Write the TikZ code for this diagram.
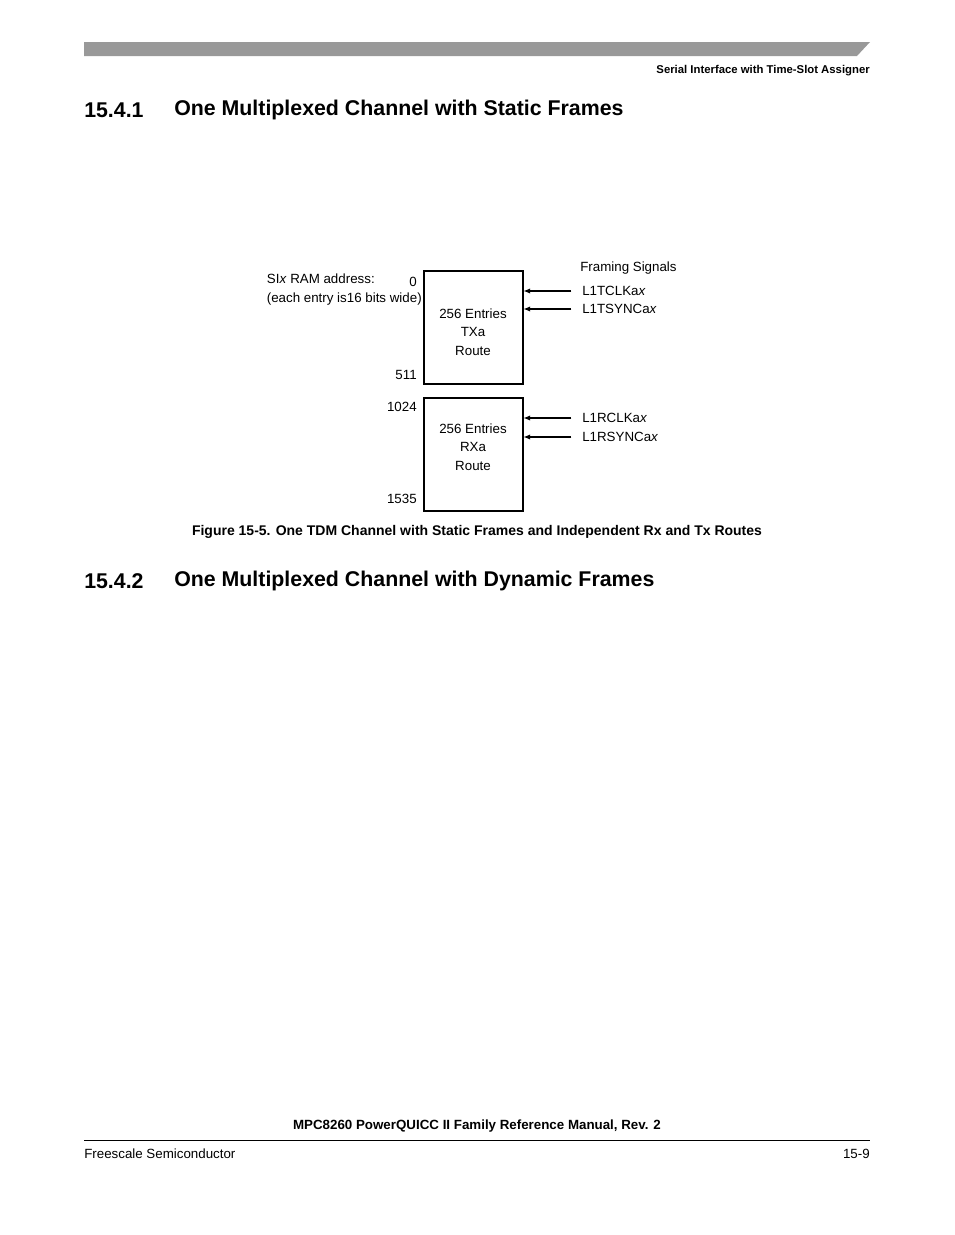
\documentclass[tikz,border=0pt]{standalone}
\usepackage{fontspec}
\setmainfont{Liberation Sans}
\usetikzlibrary{positioning,arrows.meta}
\tikzset{
  lbl/.style={inner sep=0pt, font=\fontsize{10}{12}\selectfont},
  routebox/.style={draw, thick, minimum width=99*0.75pt, minimum height=113*0.75pt, inner sep=0pt},
  sig/.style={-{Latex[length=5pt,width=4pt]}, thick},
  head/.style={inner sep=0pt, anchor=west, font=\fontsize{16}{18}\bfseries\selectfont}
}
\begin{document}
\begin{tikzpicture}[x=0.75pt,y=-0.75pt]
   \useasboundingbox (0,0) rectangle (954,1235);
   % page header
   \fill[black!40] (84,42) -- (870,42) -- (857,56) -- (84,56) -- cycle;
   \node[inner sep=0pt, anchor=east, font=\fontsize{8.5}{10}\bfseries\selectfont] (hdr) at (870,71) {Serial Interface with Time-Slot Assigner};
   \node[head] (h1n) at (84,110) {15.4.1};
   \node[head] (h1) at (174,110) {One Multiplexed Channel with Static Frames};

   % routes
   \node[routebox] (tx) at (473.5,327.5) {};
   \node[routebox] (rx) at (473.5,454.5) {};
   \node[lbl, align=center] (txt) at (473,332) {256 Entries\\[2pt]TXa\\[2pt]Route};
   \node[lbl, align=center] (rxt) at (473,447) {256 Entries\\[2pt]RXa\\[2pt]Route};

   % addresses
   \node[lbl, anchor=east] (a0) at (417,282) {0};
   \node[lbl, anchor=east] (a511) at (417,375) {511};
   \node[lbl, anchor=east] (a1024) at (417,407) {1024};
   \node[lbl, anchor=east] (a1535) at (417,499) {1535};
   \node[lbl, anchor=east] (ram) at (375,279) {SI\textit{x} RAM address:};
   \node[lbl, anchor=east] (wide) at (422,299) {(each entry is16 bits wide)};

   % framing signals
   \node[lbl, anchor=west] (fs) at (580,268) {Framing Signals};
   \node[lbl, anchor=west] (tclk) at (582,291) {L1TCLKa\textit{x}};
   \node[lbl, anchor=west] (tsync) at (582,309) {L1TSYNCa\textit{x}};
   \node[lbl, anchor=west] (rclk) at (582,418) {L1RCLKa\textit{x}};
   \node[lbl, anchor=west] (rsync) at (582,437) {L1RSYNCa\textit{x}};
   \foreach \s in {tclk,tsync}
      \draw[sig] ([xshift=-8pt]\s.west) -- (\s.west -| tx.east);
   \foreach \s in {rclk,rsync}
      \draw[sig] ([xshift=-8pt]\s.west) -- (\s.west -| rx.east);

   \node[inner sep=0pt, font=\fontsize{10.5}{12}\bfseries\selectfont] (cap) at (477,532) {Figure 15-5. One TDM Channel with Static Frames and Independent Rx and Tx Routes};
   \node[head] (h2n) at (84,581) {15.4.2};
   \node[head] (h2) at (174,581) {One Multiplexed Channel with Dynamic Frames};

   % page footer
   \node[inner sep=0pt, font=\fontsize{10}{12}\bfseries\selectfont] (man) at (477,1126) {MPC8260 PowerQUICC II Family Reference Manual, Rev. 2};
   \draw (84,1140) -- (870,1140);
   \node[lbl, anchor=west] (fsc) at (84,1154) {Freescale Semiconductor};
   \node[lbl, anchor=east] (pg) at (870,1154) {15-9};
\end{tikzpicture}
\end{document}
